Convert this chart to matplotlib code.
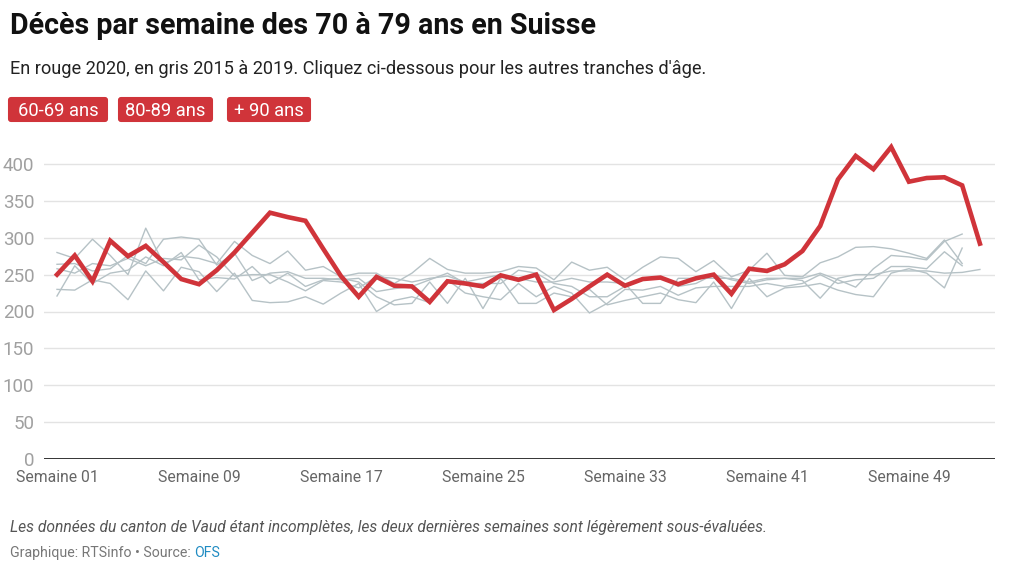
import matplotlib
matplotlib.use("Agg")
import matplotlib.pyplot as plt
from matplotlib.patches import FancyBboxPatch

plt.rcParams['font.family'] = ['Roboto', 'DejaVu Sans']

# ---------------- data ----------------
weeks_2020 = list(range(1, 54))
deaths_2020 = [250, 276, 241, 296, 275, 289, 267, 244, 237, 256, 280, 307, 334, 328, 323, 285,
               248, 220, 247, 235, 234, 213, 241, 238, 234, 249, 243, 250, 202, 217, 234, 250,
               235, 244, 246, 237, 245, 250, 224, 258, 255, 264, 282, 316, 379, 411, 393, 423,
               376, 381, 382, 371, 292]

gray_a = [280, 272, 298, 276, 250, 313, 265, 275, 272, 265, 295, 276, 265, 282, 256, 261,
          247, 252, 252, 238, 252, 272, 257, 252, 252, 254, 261, 259, 243, 267, 256, 260,
          243, 260, 274, 272, 254, 269, 247, 256, 279, 249, 247, 266, 274, 287, 288, 285,
          279, 272, 297, 265]
gray_b = [264, 265, 255, 258, 276, 265, 298, 301, 298, 263, 279, 242, 252, 254, 245, 245,
          243, 245, 227, 231, 234, 243, 252, 238, 238, 238, 256, 252, 238, 234, 220, 220,
          234, 243, 247, 234, 238, 250, 243, 238, 243, 245, 245, 252, 243, 233, 258, 276,
          274, 270, 295, 305]
gray_c = [230, 229, 243, 238, 216, 255, 228, 260, 254, 227, 252, 215, 212, 213, 220, 210,
          225, 238, 200, 215, 220, 212, 243, 225, 220, 216, 238, 220, 234, 225, 198, 211,
          230, 229, 234, 222, 232, 234, 234, 234, 238, 234, 238, 250, 238, 243, 245, 261,
          261, 258, 281, 262]
gray_d = [221, 262, 238, 252, 256, 274, 262, 280, 243, 246, 244, 261, 238, 252, 234, 243,
          245, 240, 220, 209, 211, 240, 211, 245, 204, 245, 211, 211, 225, 220, 230, 209,
          215, 220, 225, 216, 212, 240, 204, 245, 220, 232, 234, 238, 229, 223, 220, 252,
          258, 252, 232, 286]
gray_e = [258, 252, 265, 262, 272, 262, 272, 270, 290, 274, 248, 250, 250, 240, 228, 242,
          240, 232, 247, 245, 240, 245, 248, 240, 245, 250, 245, 240, 240, 245, 240, 240,
          238, 211, 211, 245, 245, 245, 245, 240, 245, 245, 242, 218, 245, 250, 250, 255,
          255, 255, 252, 253, 257]
gray_series = [gray_a, gray_b, gray_c, gray_d, gray_e]

y_ticks = [0, 50, 100, 150, 200, 250, 300, 350, 400]
x_tick_weeks = [1, 9, 17, 25, 33, 41, 49]
x_tick_labels = ["Semaine 01", "Semaine 09", "Semaine 17", "Semaine 25",
                 "Semaine 33", "Semaine 41", "Semaine 49"]
buttons = ["60-69 ans", "80-89 ans", "+ 90 ans"]

title = "Décès par semaine des 70 à 79 ans en Suisse"
subtitle = "En rouge 2020, en gris 2015 à 2019. Cliquez ci-dessous pour les autres tranches d'âge."
note = "Les données du canton de Vaud étant incomplètes, les deux dernières semaines sont légèrement sous-évaluées."
credit = "Graphique: RTSinfo • Source: "
source = "OFS"

# ---------------- layout ----------------
W, H = 1011, 564
fig = plt.figure(figsize=(W / 100, H / 100), dpi=100)
fig.patch.set_facecolor("white")

def fx(px):
    return px / W

def fy(py):
    return 1 - py / H

RED = "#d0343a"
GRAY = "#b6c2c6"

ax_left, ax_right, ax_bottom_px = 44, 995, 459
ymax = 430
px_per_unit = 0.7375
ax = fig.add_axes([fx(ax_left), fy(ax_bottom_px), (ax_right - ax_left) / W,
                   ymax * px_per_unit / H])
ax.set_xlim(0.268, 53.85)
ax.set_ylim(0, ymax)

for s in gray_series:
    ax.plot(range(1, len(s) + 1), s, color=GRAY, lw=1.0, zorder=2)
ax.plot(weeks_2020, deaths_2020, color=RED, lw=3.3, zorder=3,
        solid_joinstyle="miter")

ax.set_yticks(y_ticks)
ax.set_yticklabels([str(v) for v in y_ticks])
ax.set_xticks(x_tick_weeks)
ax.set_xticklabels(x_tick_labels)
ax.tick_params(axis="y", length=0, pad=7, labelsize=13.5, labelcolor="#a0a0a0")
ax.tick_params(axis="x", length=0, pad=8, labelsize=11.3, labelcolor="#666666")
ax.grid(axis="y", color="#e3e3e3", lw=1.0, zorder=0)
ax.grid(axis="x", visible=False)
for sp in ax.spines.values():
    sp.set_visible(False)
ax.axhline(0, color="#222222", lw=2.0, zorder=4)
ax.set_facecolor("none")

# ---------------- texts ----------------
fig.text(fx(10), fy(34), title, fontsize=20.6, fontweight="bold", color="#111111",
         va="baseline", ha="left")
fig.text(fx(10), fy(74), subtitle, fontsize=13.1, color="#222222",
         va="baseline", ha="left")

btn_boxes = [(8, 108), (118, 213), (227, 311)]
for label, (x0, x1) in zip(buttons, btn_boxes):
    y0, y1 = 97, 122
    patch = FancyBboxPatch((fx(x0 + 3), fy(y1 - 3)), fx(x1 - x0 - 6), (y1 - y0 - 6) / H,
                           boxstyle="round,pad=0.003", transform=fig.transFigure,
                           fc=RED, ec="none", mutation_aspect=W / H)
    fig.add_artist(patch)
    fig.text(fx((x0 + x1) / 2), fy((y0 + y1) / 2 + 1), label, fontsize=13.2, color="white",
             ha="center", va="center")

fig.text(fx(10), fy(532), note, fontsize=11.25, style="italic", color="#555555",
         va="baseline", ha="left")
t_credit = fig.text(fx(10), fy(557), credit, fontsize=10.2, color="#777777",
                    va="baseline", ha="left")
ax.annotate(source, xy=(1, 0), xycoords=t_credit, fontsize=10.2, color="#1f8bc2",
            va="bottom", ha="left", annotation_clip=False)

fig.savefig("out.png", dpi=100, facecolor="white")
